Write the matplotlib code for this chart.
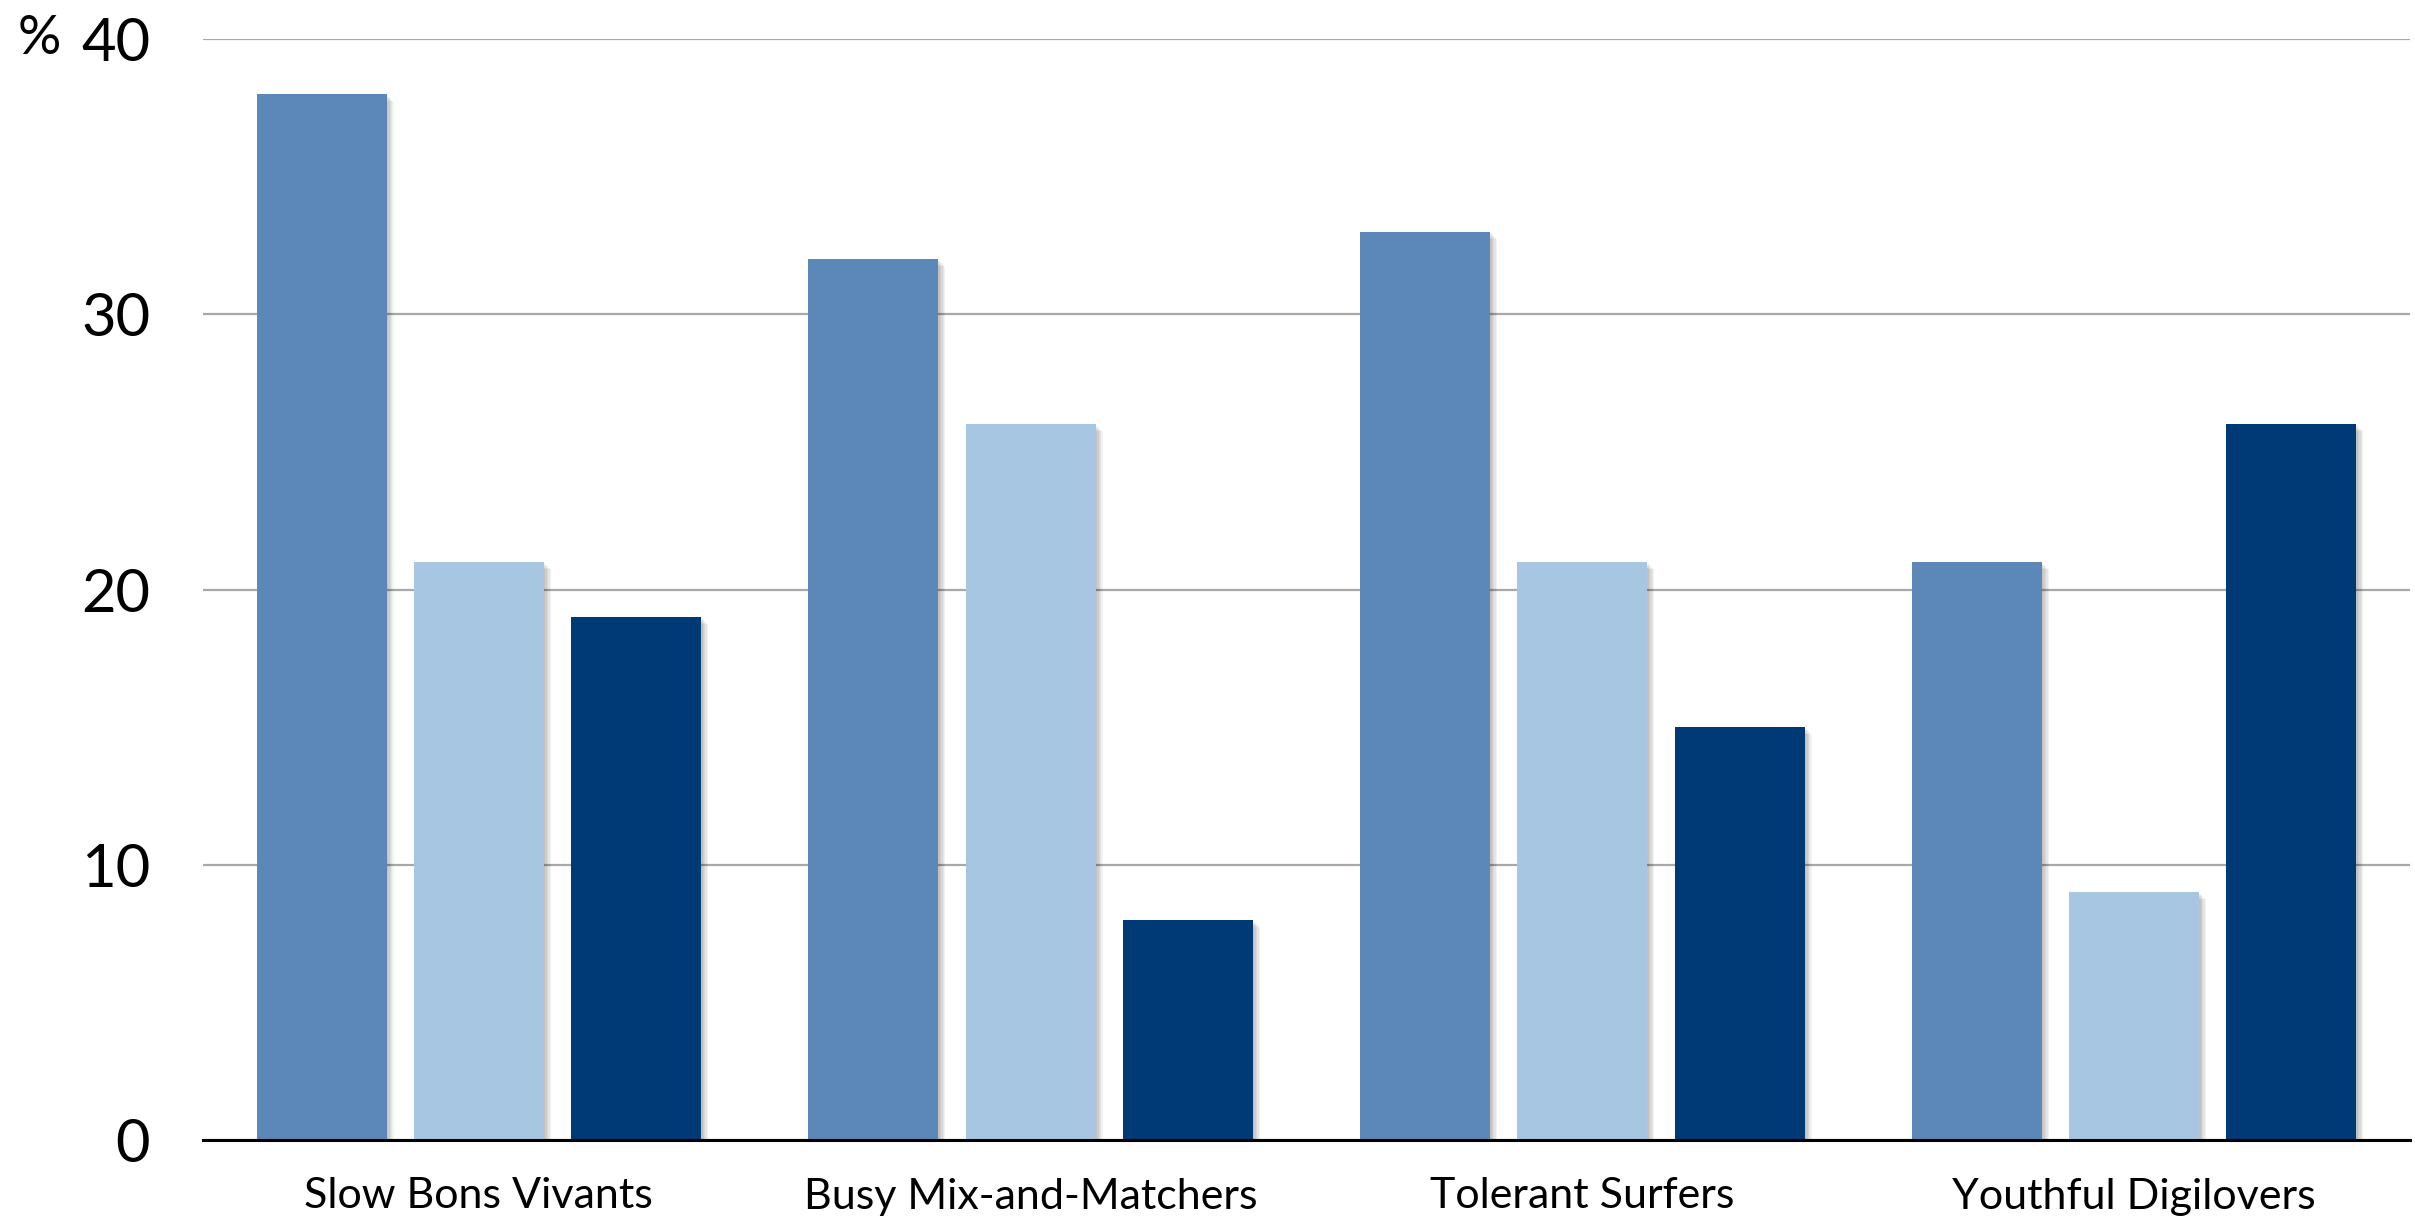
import matplotlib
matplotlib.use("Agg")
import matplotlib.pyplot as plt
import matplotlib.patheffects as pe
import numpy as np

categories = ["Slow Bons Vivants", "Busy Mix-and-Matchers", "Tolerant Surfers", "Youthful Digilovers"]
series_a = [38, 32, 33, 21]
series_b = [21, 26, 21, 9]
series_c = [19, 8, 15, 26]
yticks = [0, 10, 20, 30, 40]

colors = ["#5b88b9", "#a6c6e1", "#003a76"]

plt.rcParams['font.family'] = ['Lato', 'DejaVu Sans']

fig = plt.figure(figsize=(24.15, 12.2), dpi=100)
ax = fig.add_axes([203/2415, 80/1220, (2410-203)/2415, (1140-39)/1220])

x = np.arange(len(categories))
w = 0.236
off = 0.285
shadow = [pe.SimplePatchShadow(offset=(d, -d), shadow_rgbFace='#000000', alpha=0.05)
          for d in (1, 2, 3, 4, 5)] + [pe.Normal()]
for i, (vals, c) in enumerate(zip([series_a, series_b, series_c], colors)):
    bars = ax.bar(x + (i - 1) * off, vals, width=w, color=c, zorder=3)
    for b in bars:
        b.set_path_effects(shadow)

ax.set_xlim(-0.5, len(categories) - 0.5)
ax.set_ylim(0, 40)
ax.set_yticks(yticks)
ax.set_yticklabels([str(t) for t in yticks], fontsize=43)
ax.set_xticks(x)
ax.set_xticklabels(categories, fontsize=31)
ax.tick_params(axis='both', length=0)
ax.tick_params(axis='y', pad=38)
ax.tick_params(axis='x', pad=27)
ax.yaxis.grid(True, color='#a8a8a8', linewidth=1.6, zorder=0)
ax.set_axisbelow(True)
for s in ['top', 'right', 'left']:
    ax.spines[s].set_visible(False)
ax.spines['bottom'].set_linewidth(2.2)
ax.spines['bottom'].set_zorder(4)

fig.text(18/2415, 1 - 39/1220, "%", fontsize=39, ha='left', va='center')

fig.savefig("out.png", dpi=100)
